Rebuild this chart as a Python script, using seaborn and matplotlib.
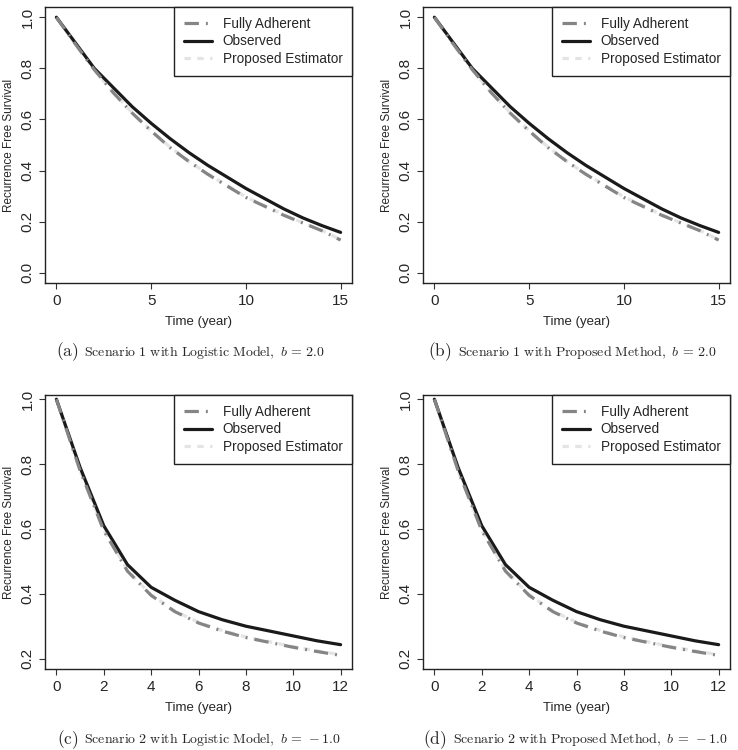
import matplotlib
matplotlib.use("Agg")
import matplotlib.pyplot as plt
import pandas as pd
import seaborn as sns

# scenario 1 (panels a, b)
years_s1 = [0, 1, 2, 3, 4, 5, 6, 7, 8, 9, 10, 11, 12, 13, 14, 15]
observed_s1 = [1.0, 0.90, 0.80, 0.725, 0.65, 0.585, 0.525, 0.47, 0.42, 0.375,
               0.33, 0.29, 0.25, 0.215, 0.185, 0.158]
adherent_s1 = [1.0, 0.895, 0.795, 0.705, 0.625, 0.555, 0.49, 0.435, 0.385, 0.34,
               0.295, 0.26, 0.225, 0.195, 0.165, 0.128]
proposed_s1 = [1.0, 0.895, 0.795, 0.705, 0.627, 0.556, 0.492, 0.436, 0.386, 0.342,
               0.297, 0.262, 0.227, 0.196, 0.166, 0.13]

# scenario 2 (panels c, d)
years_s2 = [0, 1, 2, 3, 4, 5, 6, 7, 8, 9, 10, 11, 12]
observed_s2 = [1.0, 0.79, 0.61, 0.49, 0.42, 0.38, 0.345, 0.32, 0.30, 0.285,
               0.27, 0.255, 0.243]
adherent_s2 = [1.0, 0.78, 0.595, 0.47, 0.395, 0.345, 0.31, 0.285, 0.265, 0.25,
               0.235, 0.222, 0.21]
proposed_s2 = [1.0, 0.78, 0.597, 0.472, 0.397, 0.347, 0.312, 0.287, 0.267, 0.252,
               0.237, 0.224, 0.212]

curve_names = ["Fully Adherent", "Observed", "Proposed Estimator"]
captions = [
    ("(a)", r"$\mathrm{Scenario\ 1\ with\ Logistic\ Model,}\ b\,=\,2.0$"),
    ("(b)", r"$\mathrm{Scenario\ 1\ with\ Proposed\ Method,}\ b\,=\,2.0$"),
    ("(c)", r"$\mathrm{Scenario\ 2\ with\ Logistic\ Model,}\ b\,=\,-1.0$"),
    ("(d)", r"$\mathrm{Scenario\ 2\ with\ Proposed\ Method,}\ b\,=\,-1.0$"),
]

sns.set_style("ticks")
plt.rcParams["font.family"] = ["Liberation Sans", "DejaVu Sans"]
plt.rcParams["mathtext.fontset"] = "cm"

palette = {"Fully Adherent": "#858585", "Observed": "#1a1a1a",
           "Proposed Estimator": "#e4e4e4"}
dashes = {"Fully Adherent": (4.5, 2.2, 0.6, 2.2), "Observed": "",
          "Proposed Estimator": (2, 2)}


def long_df(years, adherent, observed, proposed):
    rows = []
    for name, vals in zip(curve_names, [adherent, observed, proposed]):
        for t, v in zip(years, vals):
            rows.append({"Time": t, "Survival": v, "curve": name})
    return pd.DataFrame(rows)


df_s1 = long_df(years_s1, adherent_s1, observed_s1, proposed_s1)
df_s2 = long_df(years_s2, adherent_s2, observed_s2, proposed_s2)

fig = plt.figure(figsize=(7.38, 7.5), dpi=100)
W, H = 738, 750
panels = [
    (45, 7, 283, df_s1, (-0.6, 15.6), (-0.04, 1.04), [0, 5, 10, 15], [0.0, 0.2, 0.4, 0.6, 0.8, 1.0]),
    (423, 7, 283, df_s1, (-0.6, 15.6), (-0.04, 1.04), [0, 5, 10, 15], [0.0, 0.2, 0.4, 0.6, 0.8, 1.0]),
    (45, 395, 669, df_s2, (-0.48, 12.48), (0.168, 1.013), [0, 2, 4, 6, 8, 10, 12], [0.2, 0.4, 0.6, 0.8, 1.0]),
    (423, 395, 669, df_s2, (-0.48, 12.48), (0.168, 1.013), [0, 2, 4, 6, 8, 10, 12], [0.2, 0.4, 0.6, 0.8, 1.0]),
]
# (label right edge, text left edge, y) in pixels
caption_pos = [(79, 84, 352), (452, 458, 352), (79, 84, 740), (447, 453, 740)]

for i, (left, top, bottom, df, xl, yl, xt, yt) in enumerate(panels):
    ax = fig.add_axes([left / W, 1 - bottom / H, 307 / W, (bottom - top) / H])
    sns.lineplot(data=df, x="Time", y="Survival", hue="curve", style="curve",
                 hue_order=curve_names[::-1], style_order=curve_names[::-1],
                 palette=palette, dashes=dashes, linewidth=2.3, ax=ax)
    ax.set_xlim(*xl)
    ax.set_ylim(*yl)
    ax.set_xticks(xt)
    ax.set_yticks(yt)
    ax.set_yticklabels([f"{v:.1f}" for v in yt], rotation=90, va="center")
    ax.tick_params(labelsize=11, length=4, width=0.8, color="#333333")
    ax.tick_params(axis="y", pad=3.5)
    ax.tick_params(axis="x", pad=4)
    for s in ax.spines.values():
        s.set_color("#222222")
        s.set_linewidth(1.0)
    ax.set_xlabel("Time (year)", fontsize=9.5, labelpad=6)
    ax.set_ylabel("Recurrence Free Survival", fontsize=8.5, labelpad=4)

    handles, labels = ax.get_legend_handles_labels()
    order = [labels.index(n) for n in curve_names]
    leg = ax.legend([handles[k] for k in order], curve_names, loc="upper right",
                    fontsize=9.8, frameon=True, fancybox=False, framealpha=1,
                    edgecolor="#222222", borderaxespad=0, handlelength=2.1,
                    handletextpad=0.75, borderpad=0.7, labelspacing=0.28)
    leg.get_frame().set_linewidth(1.0)

    label, text = captions[i]
    lx, tx, cy = caption_pos[i]
    fig.text(lx / W, 1 - cy / H, r"$\mathrm{" + label + "}$", fontsize=12.5,
             ha="right", va="center")
    fig.text(tx / W, 1 - cy / H, text, fontsize=10, ha="left", va="center")

fig.savefig("out.png", dpi=100)
